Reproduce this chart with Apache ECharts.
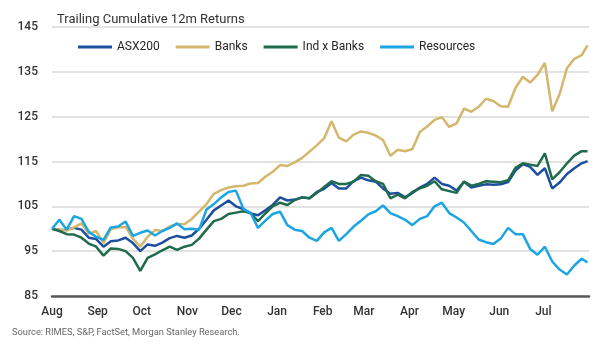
<!DOCTYPE html>
<html>
<head>
<meta charset="utf-8">
<script src="https://cdn.jsdelivr.net/npm/echarts@6/dist/echarts.min.js"></script>
<style>
html,body{margin:0;padding:0;background:#fff;}
#chart{width:600px;height:344px;}
</style>
</head>
<body>
<div id="chart"></div>
<script>
// Days since 1 Aug (sampled every 5 days)
const days = [];
for (let d = 0; d <= 360; d += 5) days.push(d);
days.push(364);

const monthStarts = [0, 31, 61, 92, 122, 153, 184, 212, 243, 273, 304, 334];
const monthLabels = ['Aug','Sep','Oct','Nov','Dec','Jan','Feb','Mar','Apr','May','Jun','Jul'];
const yTicks = [85, 95, 105, 115, 125, 135, 145];

const asx200 = [
  100.0, 99.7, 99.8, 100.2, 99.8, 98.0, 97.7, 96.0, 97.2, 97.4,
  98.0, 96.8, 95.0, 96.5, 96.2, 96.9, 97.9, 98.4, 98.0, 98.5,
  100.0, 102.0, 104.1, 105.2, 106.3, 105.0, 104.4, 103.4, 103.0, 104.1,
  105.3, 107.0, 106.3, 106.5, 107.0, 106.8, 108.2, 108.9, 110.2, 109.0,
  109.0, 110.6, 111.4, 110.8, 110.5, 109.0, 107.8, 108.0, 107.0, 108.0,
  109.2, 110.0, 111.4, 110.0, 109.6, 108.5, 110.5, 109.2, 109.6, 109.9,
  109.8, 109.9, 110.4, 113.0, 114.4, 113.8, 112.0, 113.5, 109.0, 110.3,
  112.2, 113.5, 114.6, 115.1
];
const banks = [
  100.0, 99.8, 99.6, 100.3, 101.2, 98.9, 99.5, 96.8, 99.9, 100.3,
  100.4, 97.8, 96.0, 98.2, 99.7, 99.5, 100.5, 101.0, 101.0, 102.2,
  103.8, 105.5, 107.8, 108.6, 109.2, 109.5, 109.6, 110.1, 110.2, 111.6,
  112.7, 114.2, 114.0, 114.8, 115.8, 117.2, 118.6, 120.2, 124.0, 120.3,
  119.5, 121.0, 121.7, 121.4, 120.8, 119.8, 116.3, 117.6, 117.3, 117.8,
  121.6, 122.8, 124.3, 124.9, 122.7, 123.5, 126.8, 126.1, 127.2, 129.0,
  128.5, 127.3, 127.2, 131.4, 133.9, 132.6, 134.3, 137.0, 126.2, 130.0,
  135.8, 137.9, 138.7, 140.9
];
const indExBanks = [
  100.0, 99.5, 98.8, 98.7, 98.0, 96.7, 96.0, 94.0, 95.6, 95.5,
  95.0, 93.5, 90.6, 93.5, 94.3, 95.2, 96.0, 95.3, 96.0, 96.4,
  97.8, 99.8, 101.7, 102.2, 103.3, 103.6, 103.9, 103.5, 101.7, 103.4,
  105.0, 105.8, 105.3, 106.4, 107.0, 106.8, 108.0, 109.3, 110.6, 110.0,
  110.0, 110.5, 112.0, 111.8, 110.6, 110.0, 106.8, 107.6, 106.8, 108.2,
  109.0, 109.6, 110.6, 108.8, 108.4, 108.0, 110.5, 109.6, 110.0, 110.6,
  110.5, 110.4, 110.8, 113.6, 114.6, 114.3, 114.0, 116.8, 111.0, 112.6,
  114.6, 116.3, 117.3, 117.3
];
const resources = [
  100.0, 102.0, 99.8, 102.8, 102.2, 99.3, 98.2, 97.5, 100.3, 100.5,
  101.6, 98.4, 99.1, 99.6, 98.5, 99.5, 100.2, 101.2, 99.9, 100.0,
  99.8, 104.3, 105.5, 107.0, 108.2, 108.5, 104.5, 103.5, 100.2, 101.8,
  103.3, 103.8, 100.8, 99.8, 99.5, 98.0, 97.3, 99.2, 100.2, 97.3,
  98.8, 100.5, 101.8, 103.2, 103.9, 105.2, 103.5, 102.8, 102.0, 100.8,
  102.2, 102.8, 105.0, 105.8, 103.5, 102.5, 101.4, 99.5, 97.6, 97.0,
  96.6, 97.8, 100.2, 98.8, 98.8, 95.5, 94.2, 96.0, 92.7, 90.9,
  89.8, 91.8, 93.3, 92.5
];

const seriesNames = ['ASX200', 'Banks', 'Ind x Banks', 'Resources'];
const seriesData = [asx200, banks, indExBanks, resources];
const colors = ['#1D4F9F', '#D4B76C', '#1F6B4B', '#1DA4E3'];

const FONT = 'Roboto';
const chart = echarts.init(document.getElementById('chart'), null, {renderer: 'canvas'});
chart.setOption({
  animation: false,
  color: colors,
  title: {
    text: 'Trailing Cumulative 12m Returns',
    left: 52, top: 8,
    textStyle: {fontFamily: FONT, fontSize: 13, fontWeight: 'normal', color: '#333'}
  },
  legend: {
    data: seriesNames,
    left: 73, top: 36,
    icon: 'rect', itemWidth: 34, itemHeight: 3, itemGap: 16,
    textStyle: {fontFamily: FONT, fontSize: 12, color: '#262626'}
  },
  graphic: [{
    type: 'text', left: 12, top: 328,
    style: {text: 'Source: RIMES, S&P, FactSet, Morgan Stanley Research.', fontFamily: FONT, fontSize: 9.3, fill: '#666'}
  }],
  grid: {left: 52, right: 11, top: 27, bottom: 48, containLabel: false},
  xAxis: {
    type: 'value', min: 0, max: 365,
    axisLine: {show: true, onZero: false, lineStyle: {color: '#595959', width: 2.5}},
    axisTick: {show: false},
    splitLine: {show: false},
    axisLabel: {
      customValues: monthStarts,
      margin: 10,
      fontFamily: FONT, fontSize: 12, fontWeight: 500, color: '#333',
      formatter: function (v) { const i = monthStarts.indexOf(v); return i >= 0 ? monthLabels[i] : ''; }
    }
  },
  yAxis: {
    type: 'value', min: yTicks[0], max: yTicks[yTicks.length - 1], interval: 10,
    axisLine: {show: false}, axisTick: {show: false},
    splitLine: {lineStyle: {color: '#d9d9d9', width: 1.5}},
    axisLabel: {margin: 14, fontFamily: FONT, fontSize: 12, fontWeight: 500, color: '#333'}
  },
  series: seriesNames.map((name, i) => ({
    name: name,
    type: 'line',
    showSymbol: false,
    symbol: 'none',
    lineStyle: {width: 2.5, color: colors[i]},
    data: days.map((d, j) => [d, seriesData[i][j]])
  }))
});
</script>
</body>
</html>
